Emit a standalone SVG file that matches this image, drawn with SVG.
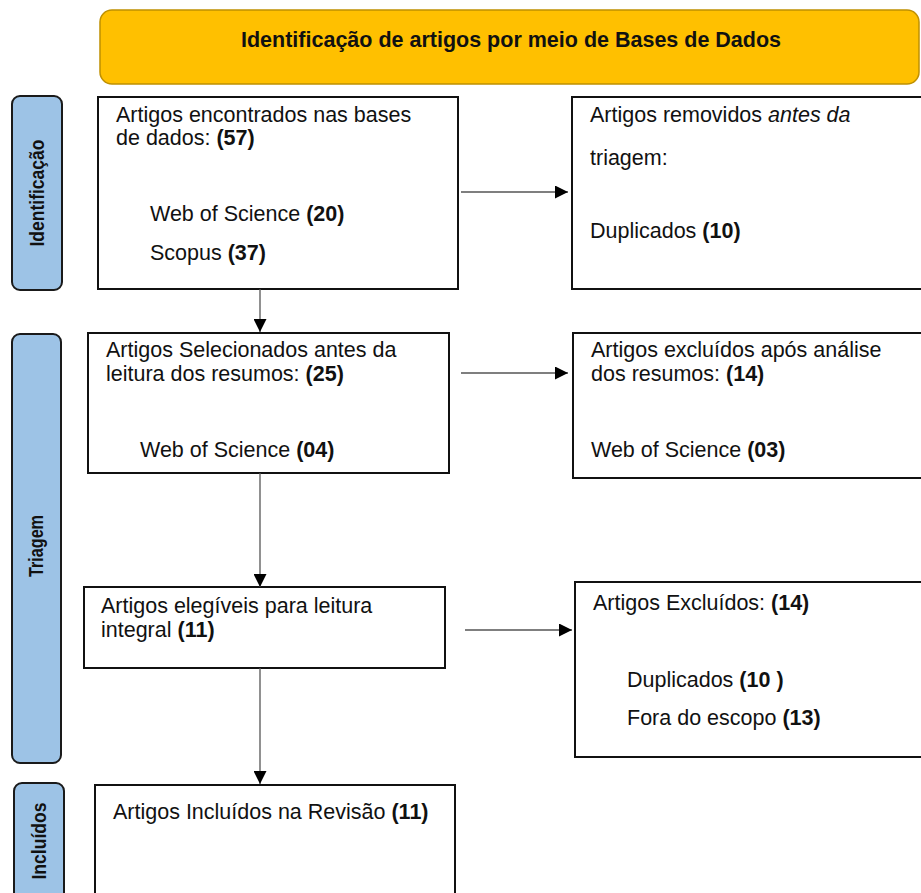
<svg xmlns="http://www.w3.org/2000/svg" width="921" height="893" viewBox="0 0 921 893">
<style>
.t{font-family:"Liberation Sans",Arial,sans-serif;font-size:21.5px;fill:#111}
.b{font-weight:bold}
.i{font-style:italic}
.box{fill:#fff;stroke:#111;stroke-width:2}
.side{fill:#9DC3E6;stroke:#1a1a1a;stroke-width:2}
.sl{font-family:"Liberation Sans",Arial,sans-serif;font-size:20px;font-weight:bold;fill:#111;text-anchor:middle}
.conn{stroke:#555;stroke-width:1.3;fill:none}
</style>
<defs>
<marker id="ah" markerUnits="userSpaceOnUse" markerWidth="14" markerHeight="13" refX="13" refY="6.5" orient="auto">
<path d="M0,0 L13,6.5 L0,13 Z" fill="#000"/>
</marker>
</defs>

<g id="header">
<rect x="100" y="10" width="819" height="74" rx="12" fill="#FFC000" stroke="#BF9000" stroke-width="1.5"/>
<text class="t b" x="241" y="47">Identificação de artigos por meio de Bases de Dados</text>
</g>

<g id="label-identificacao">
<rect class="side" x="12" y="96" width="50" height="194" rx="8"/>
<text class="sl" transform="translate(44,193) rotate(-90)" textLength="107" lengthAdjust="spacingAndGlyphs">Identificação</text>
</g>
<g id="label-triagem">
<rect class="side" x="12" y="334" width="49" height="429" rx="8"/>
<text class="sl" transform="translate(43,546) rotate(-90)" textLength="62" lengthAdjust="spacingAndGlyphs">Triagem</text>
</g>
<g id="label-incluidos">
<rect class="side" x="14" y="783" width="50" height="130" rx="8"/>
<text class="sl" transform="translate(46,841) rotate(-90)" textLength="77" lengthAdjust="spacingAndGlyphs">Incluídos</text>
</g>

<g id="box1">
<rect class="box" x="98" y="97" width="360" height="192"/>
<text class="t" x="116" y="122">Artigos encontrados nas bases</text>
<text class="t" x="116" y="145">de dados: <tspan class="b">(57)</tspan></text>
<text class="t" x="150" y="221">Web of Science <tspan class="b">(20)</tspan></text>
<text class="t" x="150" y="260">Scopus <tspan class="b">(37)</tspan></text>
</g>

<g id="box2">
<rect class="box" x="572" y="97" width="360" height="192"/>
<text class="t" x="590" y="122">Artigos removidos <tspan class="i">antes da</tspan></text>
<text class="t" x="590" y="165">triagem:</text>
<text class="t" x="590" y="238">Duplicados <tspan class="b">(10)</tspan></text>
</g>

<g id="box3">
<rect class="box" x="88" y="333" width="361" height="140"/>
<text class="t" x="106" y="357">Artigos Selecionados antes da</text>
<text class="t" x="106" y="381">leitura dos resumos: <tspan class="b">(25)</tspan></text>
<text class="t" x="140" y="457">Web of Science <tspan class="b">(04)</tspan></text>
</g>

<g id="box4">
<rect class="box" x="573" y="333" width="360" height="145"/>
<text class="t" x="591" y="357">Artigos excluídos após análise</text>
<text class="t" x="591" y="381">dos resumos: <tspan class="b">(14)</tspan></text>
<text class="t" x="591" y="457">Web of Science <tspan class="b">(03)</tspan></text>
</g>

<g id="box5">
<rect class="box" x="84" y="587" width="361" height="81"/>
<text class="t" x="101" y="613">Artigos elegíveis para leitura</text>
<text class="t" x="101" y="637">integral <tspan class="b">(11)</tspan></text>
</g>

<g id="box6">
<rect class="box" x="575" y="582" width="360" height="175"/>
<text class="t" x="593" y="610">Artigos Excluídos: <tspan class="b">(14)</tspan></text>
<text class="t" x="627" y="687">Duplicados <tspan class="b">(10 )</tspan></text>
<text class="t" x="627" y="725">Fora do escopo <tspan class="b">(13)</tspan></text>
</g>

<g id="box7">
<rect class="box" x="95" y="785" width="360" height="130"/>
<text class="t" x="113" y="819">Artigos Incluídos na Revisão <tspan class="b">(11)</tspan></text>
</g>

<g id="connectors">
<line class="conn" x1="461" y1="192" x2="568" y2="192" marker-end="url(#ah)"/>
<line class="conn" x1="461" y1="373" x2="568" y2="373" marker-end="url(#ah)"/>
<line class="conn" x1="465" y1="630" x2="572" y2="630" marker-end="url(#ah)"/>
<line class="conn" x1="260" y1="289" x2="260" y2="332" marker-end="url(#ah)"/>
<line class="conn" x1="260" y1="473" x2="260" y2="587" marker-end="url(#ah)"/>
<line class="conn" x1="260" y1="668" x2="260" y2="784" marker-end="url(#ah)"/>
</g>
</svg>
